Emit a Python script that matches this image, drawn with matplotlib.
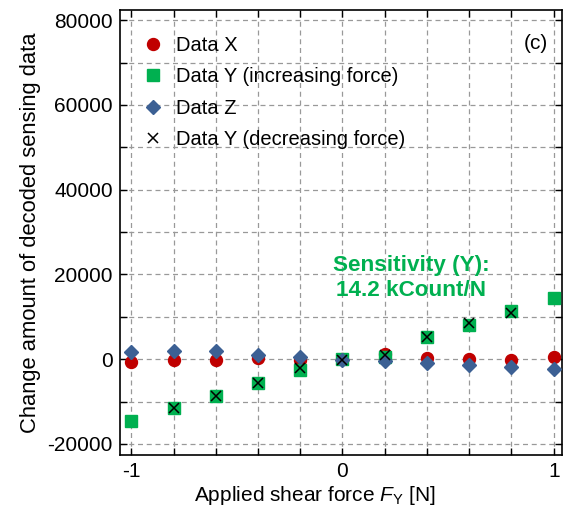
import numpy as np
import matplotlib
matplotlib.use("Agg")
import matplotlib.pyplot as plt

plt.rcParams['font.family'] = ['Liberation Sans', 'DejaVu Sans']
plt.rcParams['mathtext.fontset'] = 'custom'
plt.rcParams['mathtext.it'] = 'Liberation Sans:italic'
plt.rcParams['mathtext.rm'] = 'Liberation Sans'

#--------------------------------------
force   = [-1.0, -0.8, -0.6, -0.4, -0.2, 0.0, 0.2, 0.4, 0.6, 0.8, 1.0]
dataX   = [-550, -150, -150, 240, -150, 0, 1200, 400, 100, -150, 470]
dataYup = [-14570, -11570, -8660, -5510, -2520, 0, 630, 5200, 8110, 11300, 14500]
dataZ   = [1800, 2050, 1970, 1020, 630, -150, -400, -790, -1340, -1730, -2280]
forceDn = [-0.8, -0.6, -0.4, -0.2, 0.0, 0.2, 0.4, 0.6, 0.8]
dataYdn = [-11570, -8660, -5510, -2130, -150, 1020, 5200, 8500, 11020]
#--------------------------------------

fig = plt.figure(figsize=(5.68, 5.11), dpi=100)
ax  = fig.add_axes([0.211, 0.1096, 0.778, 0.8708])

ax.plot(force, dataX, 'o', color='#C00000', ms=8.6, label='Data X', zorder=3)
ax.plot(force, dataYup, 's', color='#00B050', ms=9.0, label='Data Y (increasing force)', zorder=4)
ax.plot(force, dataZ, 'D', color='#3C6094', ms=6.8, label='Data Z', zorder=5)
ax.plot(forceDn, dataYdn, 'x', color='black', ms=7.5, mew=1.1, label='Data Y (decreasing force)', zorder=6)

ax.set_xlim(-1.054, 1.038)
ax.set_ylim(-22600, 82400)
ax.set_xticks(np.arange(-1, 1.01, 0.2))
ax.set_xticklabels(['-1', '', '', '', '', '0', '', '', '', '', '1'])
ax.set_yticks(np.arange(-20000, 80001, 10000))
ax.set_yticklabels(['-20000', '', '0', '', '20000', '', '40000', '', '60000', '', '80000'])
ax.tick_params(direction='in', top=True, right=True, length=5, width=1, labelsize=15, pad=5)
ax.grid(True, ls=(0, (4, 3)), color='#999999', lw=0.9)
for s in ax.spines.values():
    s.set_linewidth(1.2)

ax.set_xlabel('Applied shear force $F_\\mathrm{Y}$ [N]', fontsize=15, labelpad=2)
ax.xaxis.label.set_x(0.441)
ax.set_ylabel('Change amount of decoded sensing data', fontsize=15.8, labelpad=5)

leg = ax.legend(loc='upper left', frameon=False, fontsize=14.5, handletextpad=0.45,
                labelspacing=0.62, borderaxespad=0.0, handlelength=1.3,
                bbox_to_anchor=(0.028, 0.96))

ax.text(0.97, 0.924, '(c)', transform=ax.transAxes, ha='right', va='center', fontsize=15)
ax.text(0.325, 19100, 'Sensitivity (Y):\n14.2 kCount/N', color='#00B050', fontsize=16.2,
        fontweight='bold', ha='center', va='center', linespacing=1.25)

fig.savefig('out.png', dpi=100)
